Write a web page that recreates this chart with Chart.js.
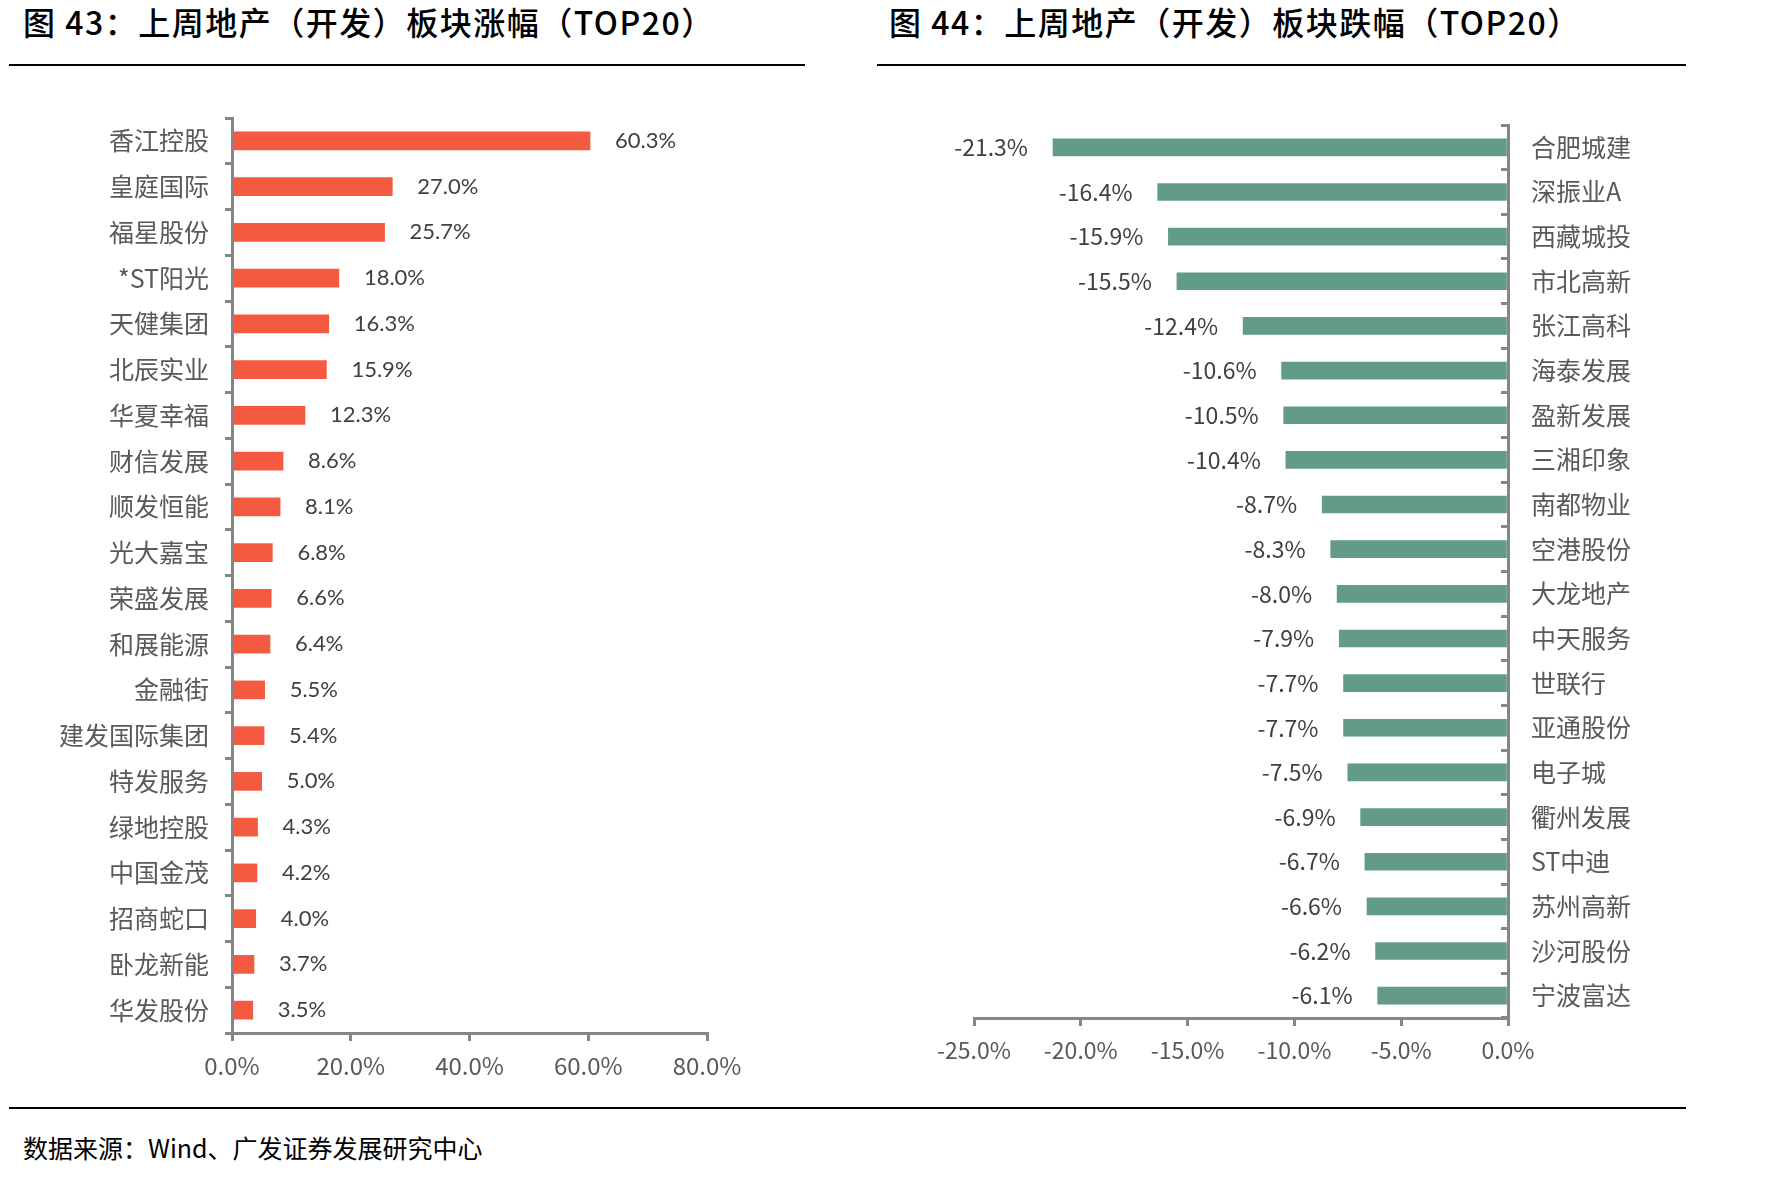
<!DOCTYPE html>
<html>
<head>
<meta charset="utf-8">
<script src="https://cdn.jsdelivr.net/npm/chart.js@4.4.1/dist/chart.umd.min.js"></script>
<style>
  body { margin: 0; background: #fff; }
  #page { position: relative; width: 1790px; height: 1178px; background: #fff; overflow: hidden; }
  .title { position: absolute; top: 3px; height: 36px; line-height: 36px; font-size: 32px; font-weight: 500; color: #000;
           letter-spacing: 1.5px; font-family: "Liberation Sans Narrow", "Noto Sans CJK SC", sans-serif; white-space: nowrap; }
  .rule { position: absolute; height: 2px; background: #000; }
  .source { position: absolute; left: 23px; top: 1132px; line-height: 30px; font-size: 25px; color: #000;
            font-family: "Noto Sans CJK SC", sans-serif; white-space: nowrap; }
  canvas { position: absolute; }
</style>
</head>
<body>
<div id="page">
  <div class="title" style="left:23px">图 43：上周地产（开发）板块涨幅（TOP20）</div>
  <div class="title" style="left:889px">图 44：上周地产（开发）板块跌幅（TOP20）</div>
  <div class="rule" style="left:9px; width:796px; top:64px"></div>
  <div class="rule" style="left:877px; width:809px; top:64px"></div>
  <div class="rule" style="left:9px; width:1677px; top:1107px"></div>
  <div class="source">数据来源：Wind、广发证券发展研究中心</div>
  <canvas id="upChart" width="800" height="1020" style="left:0; top:80px"></canvas>
  <canvas id="downChart" width="990" height="1020" style="left:800px; top:80px"></canvas>
</div>
<script>
'use strict';

// top 20 gainers
const upNames = ['香江控股', '皇庭国际', '福星股份', '*ST阳光', '天健集团', '北辰实业', '华夏幸福', '财信发展', '顺发恒能', '光大嘉宝',
  '荣盛发展', '和展能源', '金融街', '建发国际集团', '特发服务', '绿地控股', '中国金茂', '招商蛇口', '卧龙新能', '华发股份'];
const upValues = [60.3, 27.0, 25.7, 18.0, 16.3, 15.9, 12.3, 8.6, 8.1, 6.8, 6.6, 6.4, 5.5, 5.4, 5.0, 4.3, 4.2, 4.0, 3.7, 3.5];
const upTicks = [0, 20, 40, 60, 80];

// top 20 losers
const downNames = ['合肥城建', '深振业A', '西藏城投', '市北高新', '张江高科', '海泰发展', '盈新发展', '三湘印象', '南都物业', '空港股份',
  '大龙地产', '中天服务', '世联行', '亚通股份', '电子城', '衢州发展', 'ST中迪', '苏州高新', '沙河股份', '宁波富达'];
const downValues = [-21.3, -16.4, -15.9, -15.5, -12.4, -10.6, -10.5, -10.4, -8.7, -8.3, -8.0, -7.9, -7.7, -7.7, -7.5, -6.9, -6.7, -6.6, -6.2, -6.1];
const downTicks = [-25, -20, -15, -10, -5, 0];

const axisGray = '#868686';
const narrow = '"Liberation Sans Narrow", "Noto Sans CJK SC", sans-serif';
const cjk = '"Noto Sans CJK SC", sans-serif';

// value labels next to each bar
const valueLabels = {
  id: 'valueLabels',
  afterDatasetsDraw(chart, args, opts) {
    const ctx = chart.ctx;
    const values = chart.data.datasets[0].data;
    ctx.save();
    ctx.font = opts.font;
    ctx.fillStyle = opts.color;
    ctx.textAlign = opts.align;
    ctx.textBaseline = 'middle';
    chart.getDatasetMeta(0).data.forEach((bar, i) => {
      ctx.fillText(values[i].toFixed(1) + '%', bar.x + opts.offset, bar.y);
    });
    ctx.restore();
  }
};

const pct = (v) => Number(v).toFixed(1) + '%';

new Chart(document.getElementById('upChart'), {
  type: 'bar',
  data: {
    labels: upNames,
    datasets: [{ data: upValues, backgroundColor: '#F45A40', barThickness: 18 }]
  },
  options: {
    indexAxis: 'y',
    responsive: false,
    animation: false,
    layout: { padding: { top: 38, right: 93, left: 0, bottom: 0 } },
    plugins: {
      legend: { display: false },
      tooltip: { enabled: false },
      valueLabels: { font: '22px Lato, sans-serif', color: '#404040', align: 'left', offset: 25 }
    },
    scales: {
      x: {
        min: upTicks[0], max: upTicks[upTicks.length - 1],
        afterBuildTicks: (s) => { s.ticks = upTicks.map(v => ({ value: v })); },
        afterFit: (s) => { s.height = 67; },
        grid: { drawOnChartArea: false, drawTicks: true, tickLength: 8, color: axisGray, lineWidth: 3 },
        border: { color: axisGray, width: 3 },
        ticks: { callback: pct, color: '#595959', padding: 10, font: { family: narrow, size: 24 } }
      },
      y: {
        afterFit: (s) => { s.width = 232; },
        grid: { drawOnChartArea: false, drawTicks: true, tickLength: 7, color: axisGray, lineWidth: 3 },
        border: { color: axisGray, width: 3 },
        ticks: { color: '#595959', padding: 16, font: { family: cjk, size: 25 } }
      }
    }
  },
  plugins: [valueLabels]
});

new Chart(document.getElementById('downChart'), {
  type: 'bar',
  data: {
    labels: downNames,
    datasets: [{ data: downValues, backgroundColor: '#639B89', barThickness: 17 }]
  },
  options: {
    indexAxis: 'y',
    responsive: false,
    animation: false,
    layout: { padding: { top: 38, right: 0, left: 174, bottom: 0 } },
    plugins: {
      legend: { display: false },
      tooltip: { enabled: false },
      valueLabels: { font: '23px ' + narrow, color: '#404040', align: 'right', offset: -25 }
    },
    scales: {
      x: {
        min: downTicks[0], max: downTicks[downTicks.length - 1],
        afterBuildTicks: (s) => { s.ticks = downTicks.map(v => ({ value: v })); },
        afterFit: (s) => { s.height = 82; },
        grid: { drawOnChartArea: false, drawTicks: true, tickLength: 8, color: axisGray, lineWidth: 3 },
        border: { color: axisGray, width: 3 },
        ticks: { callback: pct, color: '#595959', padding: 10, font: { family: narrow, size: 23 } }
      },
      y: {
        position: 'right',
        afterFit: (s) => { s.width = 282; },
        // negative tick length so the marks point into the plot, as in the source
        grid: { drawOnChartArea: false, drawTicks: true, tickLength: -7, color: axisGray, lineWidth: 3 },
        border: { color: axisGray, width: 3 },
        ticks: { color: '#595959', padding: 30, font: { family: cjk, size: 25 } }
      }
    }
  },
  plugins: [valueLabels]
});
</script>
</body>
</html>
